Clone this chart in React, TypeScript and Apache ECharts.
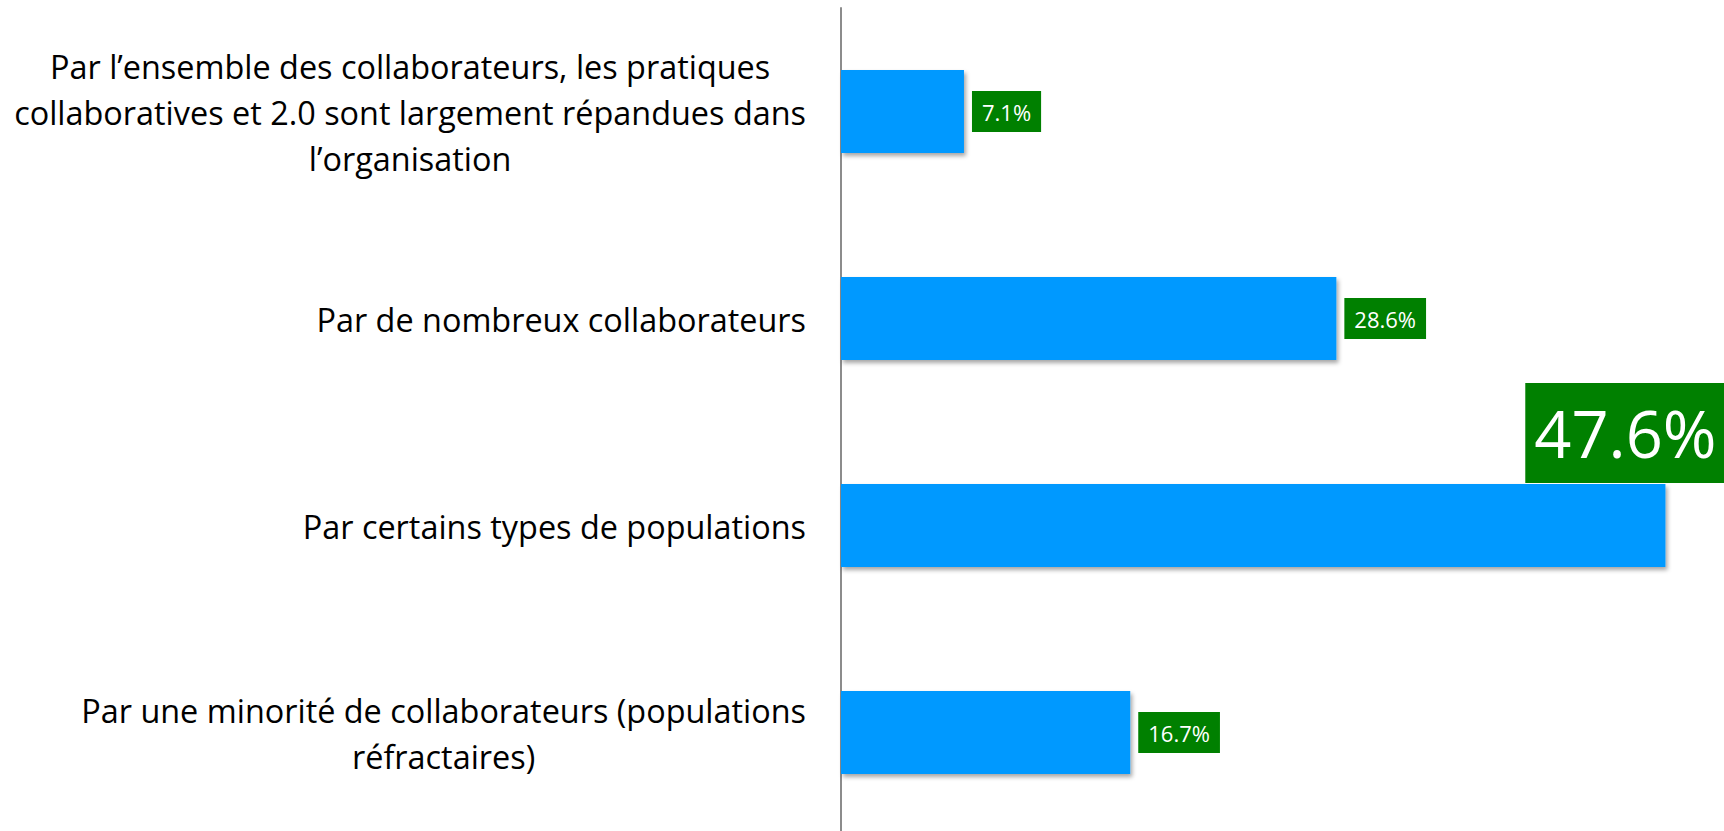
import React, { useEffect, useRef } from "react";
import * as echarts from "echarts";

const categories = [
  "Par l’ensemble des collaborateurs, les pratiques\ncollaboratives et 2.0 sont largement répandues dans\nl’organisation",
  "Par de nombreux collaborateurs",
  "Par certains types de populations",
  "Par une minorité de collaborateurs (populations\nréfractaires)",
];
const values = [7.1, 28.6, 47.6, 16.7];
const highlightIndex = 2;

const FONT = "'Open Sans', 'Noto Sans', sans-serif";
const BAR_COLOR = "#0099FF";
const LABEL_BG = "#008000";

export default function App() {
  const ref = useRef<HTMLDivElement>(null);

  useEffect(() => {
    if (!ref.current) return;
    const chart = echarts.init(ref.current, null, { renderer: "svg" });

    const smallLabel = {
      show: true,
      position: "right",
      distance: 8,
      formatter: (p: any) => `${Number(p.value).toFixed(1)}%`,
      color: "#ffffff",
      fontFamily: FONT,
      fontSize: 22,
      lineHeight: 25,
      backgroundColor: LABEL_BG,
      padding: [8, 10, 8, 10],
    };
    const bigLabel = {
      show: true,
      position: ["83%", -1],
      align: "left",
      verticalAlign: "bottom",
      formatter: (p: any) => `${Number(p.value).toFixed(1)}%`,
      color: "#ffffff",
      fontFamily: FONT,
      fontSize: 65,
      lineHeight: 80,
      backgroundColor: LABEL_BG,
      padding: [10, 9, 10, 9],
    };

    chart.setOption({
      animation: false,
      backgroundColor: "#ffffff",
      grid: {
        left: 841,
        right: 17,
        top: 8,
        height: 828,
        outerBoundsMode: "none",
        containLabel: false,
      },
      xAxis: {
        type: "value",
        min: 0,
        max: 50,
        show: false,
      },
      yAxis: {
        type: "category",
        inverse: true,
        data: categories,
        axisTick: { show: false },
        axisLine: { show: true, lineStyle: { color: "#8c8c8c", width: 2 } },
        axisLabel: {
          margin: 35,
          align: "right",
          formatter: (v: string) => `{c|${v}}`,
          rich: {
            c: {
              align: "center",
              fontFamily: FONT,
              fontSize: 32.4,
              lineHeight: 46,
              color: "#000000",
            },
          },
        },
      },
      series: [
        {
          type: "bar",
          barCategoryGap: "60%",
          data: values.map((v, i) => ({
            value: v,
            label: i === highlightIndex ? bigLabel : smallLabel,
          })),
          itemStyle: {
            color: BAR_COLOR,
            shadowColor: "rgba(0,0,0,0.35)",
            shadowBlur: 4,
            shadowOffsetX: 2,
            shadowOffsetY: 3,
          },
        },
      ],
    });

    return () => chart.dispose();
  }, []);

  return (
    <div
      ref={ref}
      style={{ position: "absolute", left: 0, top: 0, width: 1724, height: 831 }}
    />
  );
}
